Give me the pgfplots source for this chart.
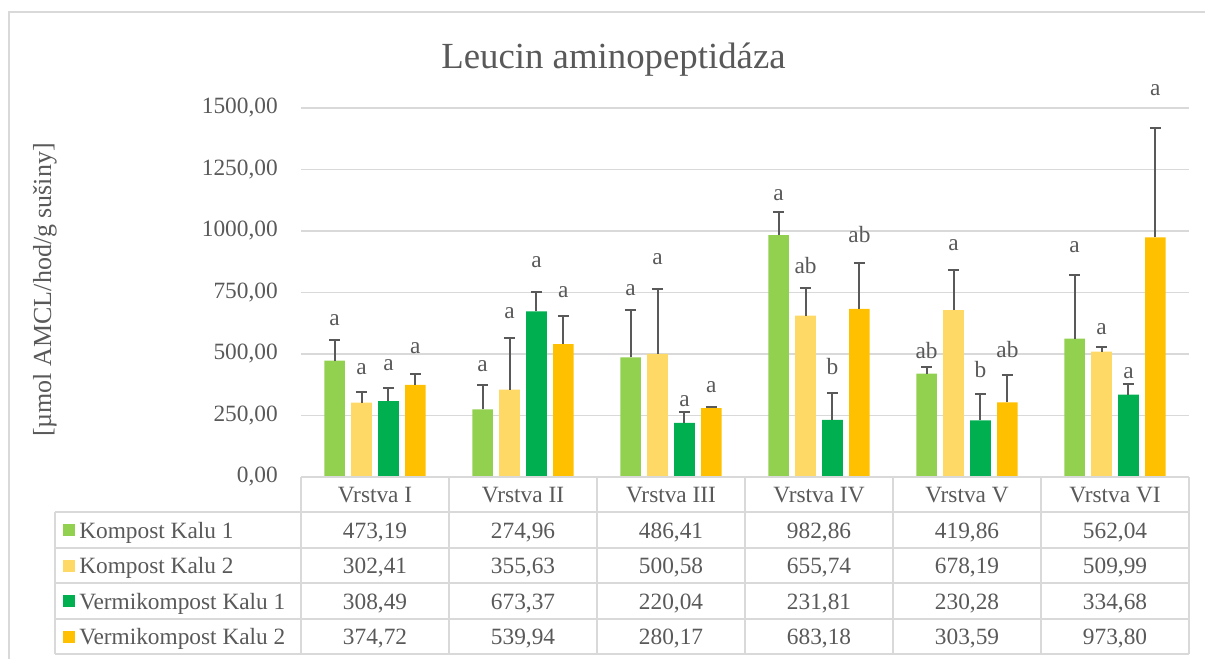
\documentclass[border=0pt]{standalone}
\usepackage{pgfplots}
\usepackage{pgfplotstable}
\pgfplotsset{compat=1.18}
\usepackage{fontspec}
\setmainfont{Liberation Serif}

\definecolor{kk1}{HTML}{92D050}
\definecolor{kk2}{HTML}{FFD966}
\definecolor{vk1}{HTML}{00B050}
\definecolor{vk2}{HTML}{FFC000}
\definecolor{gridc}{HTML}{D9D9D9}
\definecolor{txt}{HTML}{595959}

\newcommand{\lab}{\fontsize{17.5}{20}\selectfont}

\pgfkeys{/pgf/number format/.cd, fixed, fixed zerofill, precision=2,
  use comma, 1000 sep={}, assume math mode=true}

% x = vrstva (0 = I ... 5 = VI), e.. = upper error
\pgfplotstableread{
x kk1 kk2 vk1 vk2 ek1 ek2 ev1 ev2
0 473.19 302.41 308.49 374.72 83 45 55 44
1 274.96 355.63 673.37 539.94 98 211 78 115
2 486.41 500.58 220.04 280.17 193 265 45 3
3 982.86 655.74 231.81 683.18 94 112 108 187
4 419.86 678.19 230.28 303.59 28 165 108 111
5 562.04 509.99 334.68 973.80 258 19 43 443
}\data

% letters and the height where each one sits
\pgfplotstableread{
x y1 l1 y2 l2 y3 l3 y4 l4
0 637 a 438 a 455 a 525 a
1 451 a 665 a 874 a 752 a
2 759 a 884 a 309 a 367 a
3 1144 a 858 ab 448 b 986 ab
4 513 ab 942 a 435 b 519 ab
5 935 a 600 a 424 a 1571 a
}\letters

% bars are placed by x expr (bar shift 0), so error bars sit on them
\pgfplotsset{
  bars/.style={ybar, bar shift=0pt, draw=none, fill=#1, bar width=15.5pt,
    error bars/y dir=plus, error bars/y explicit,
    error bars/error bar style={draw=txt, line width=1.5pt},
    error bars/error mark options={rotate=90, draw=txt, line width=1.5pt, mark size=4.2pt}},
  letters/.style={draw=none, mark=none, nodes near coords,
    point meta=explicit symbolic,
    every node near coord/.append style={anchor=center, font=\lab, text=txt, inner sep=0pt}},
}

\begin{document}
\begin{tikzpicture}[x=0.75pt, y=-0.75pt]
\path[use as bounding box] (0,0) rectangle (1205,659);

\begin{axis}[
    at={(225.75pt,-357.75pt)}, anchor=south west,
    scale only axis, width=666pt, height=276.75pt,
    xmin=-0.5, xmax=5.5, ymin=0, ymax=1500,
    xtick=\empty, ytick={0,250,...,1500},
    ymajorgrids, major grid style={gridc, line width=1.1pt},
    axis line style={draw=none}, major tick length=0pt,
    yticklabel style={font=\lab, text=txt, anchor=east, inner sep=0pt, xshift=-17.25pt},
    clip=false,
]
\addplot[bars=kk1] table[x expr=\thisrow{x}-0.273, y=kk1, y error plus=ek1] {\data};
\addplot[bars=kk2] table[x expr=\thisrow{x}-0.091, y=kk2, y error plus=ek2] {\data};
\addplot[bars=vk1] table[x expr=\thisrow{x}+0.091, y=vk1, y error plus=ev1] {\data};
\addplot[bars=vk2] table[x expr=\thisrow{x}+0.273, y=vk2, y error plus=ev2] {\data};

\addplot[letters] table[x expr=\thisrow{x}-0.273, y=y1, meta=l1] {\letters};
\addplot[letters] table[x expr=\thisrow{x}-0.091, y=y2, meta=l2] {\letters};
\addplot[letters] table[x expr=\thisrow{x}+0.091, y=y3, meta=l3] {\letters};
\addplot[letters] table[x expr=\thisrow{x}+0.273, y=y4, meta=l4] {\letters};
\end{axis}

% outer frame
\draw[gridc, line width=1.1pt] (9,659) -- (9,12) -- (1205,12);

% title and y label
\node[anchor=base, font=\fontsize{27.6}{32}\selectfont, text=txt] at (613.5,69) {Leucin aminopeptidáza};
\node[rotate=90, font=\fontsize{19.5}{23}\selectfont, text=txt] at (45,290) {[µmol AMCL/hod/g sušiny]};

% data table
\begin{scope}[gridc, line width=1.1pt]
\draw (301,477) -- (1189,477);
\foreach \yy in {512,548,583,619,654} \draw (55,\yy) -- (1189,\yy);
\draw (55,512) -- (55,654);
\foreach \xx in {301,449,...,1189} \draw (\xx,477) -- (\xx,654);
\end{scope}

\foreach \n [count=\i from 0] in {I,II,III,IV,V,VI}
  \node[anchor=base, font=\lab, text=txt] at (375+148*\i, 502.5) {Vrstva \n};

\foreach \s/\name/\yy in {kk1/Kompost Kalu 1/530, kk2/Kompost Kalu 2/565.5,
    vk1/Vermikompost Kalu 1/601, vk2/Vermikompost Kalu 2/636.5} {
  \fill[\s] (63,\yy-6) rectangle (75,\yy+6);
  \node[anchor=base west, inner sep=0pt, font=\lab, text=txt] at (79,\yy+8) {\name};
  \foreach \i in {0,...,5} {
    \pgfplotstablegetelem{\i}{\s}\of\data
    \node[anchor=base, font=\lab, text=txt] at (375+148*\i, \yy+8) {\pgfmathprintnumber{\pgfplotsretval}};
  }
}
\end{tikzpicture}
\end{document}
